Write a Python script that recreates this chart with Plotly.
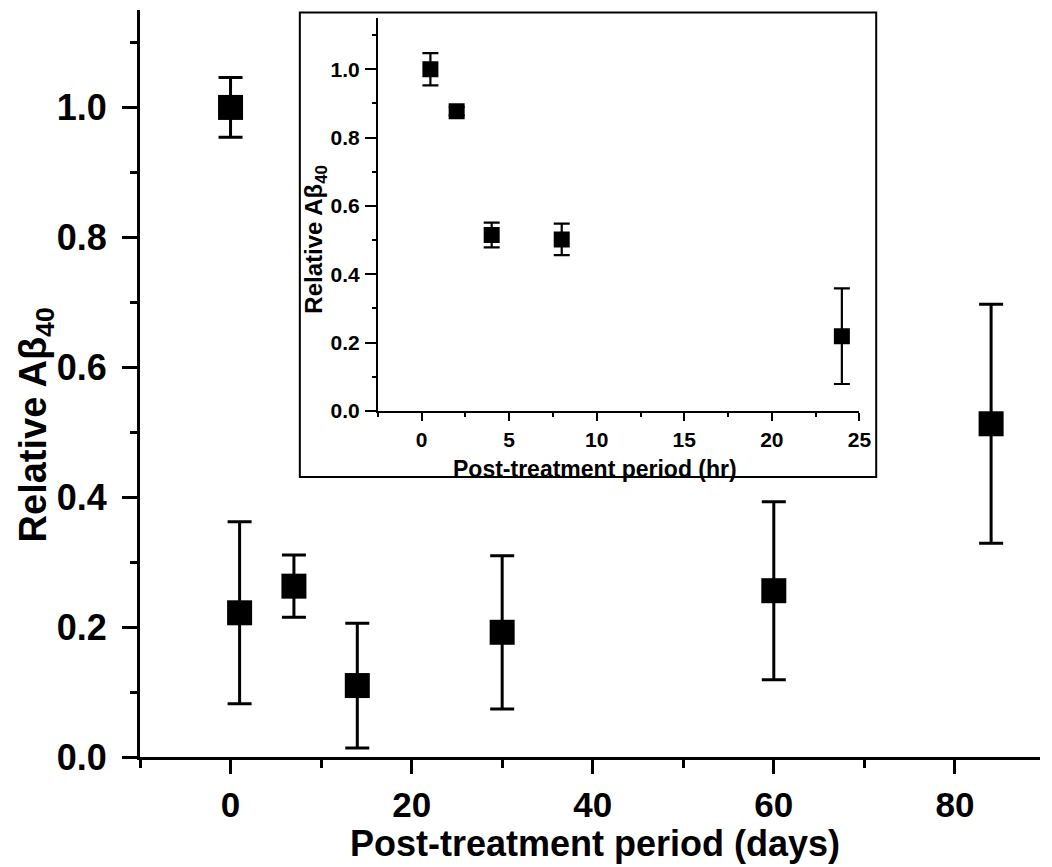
import plotly.graph_objects as go

# Main panel data (days)
days = [0, 1, 7, 14, 30, 60, 84]
rel_days = [1.0, 0.222, 0.263, 0.110, 0.192, 0.256, 0.513]
err_days = [0.046, 0.140, 0.048, 0.096, 0.118, 0.137, 0.184]

# Inset data (hours)
hours = [0.5, 2, 4, 8, 24]
rel_hours = [1.0, 0.877, 0.515, 0.502, 0.219]
err_hours = [0.047, 0.012, 0.036, 0.046, 0.140]

main_xticks = [0, 20, 40, 60, 80]
main_yticks = [0.0, 0.2, 0.4, 0.6, 0.8, 1.0]
inset_xticks = [0, 5, 10, 15, 20, 25]
inset_yticks = [0.0, 0.2, 0.4, 0.6, 0.8, 1.0]

main_xtitle = "Post-treatment period (days)"
inset_xtitle = "Post-treatment period (hr)"
ytitle = "Relative Aβ<sub>40</sub>"

fig = go.Figure()
fig.add_trace(go.Scatter(
    x=days, y=rel_days, mode="markers",
    marker=dict(symbol="square", size=25, color="black"),
    error_y=dict(type="data", array=err_days, visible=True, color="black", thickness=3, width=12),
    xaxis="x", yaxis="y", showlegend=False))
fig.add_trace(go.Scatter(
    x=hours, y=rel_hours, mode="markers",
    marker=dict(symbol="square", size=16, color="black"),
    error_y=dict(type="data", array=err_hours, visible=True, color="black", thickness=2.2, width=8),
    xaxis="x2", yaxis="y2", showlegend=False))

axis_common = dict(showgrid=False, zeroline=False, showline=True, linecolor="black",
                   ticks="outside", tickcolor="black")
font = "Liberation Sans, Arial, sans-serif"

fig.update_layout(
    width=1052, height=867, autosize=False,
    margin=dict(l=140, r=0, t=10, b=110),
    paper_bgcolor="white", plot_bgcolor="white",
    xaxis=dict(**axis_common, domain=[0, 1], range=[-10, 89.4], tickvals=main_xticks,
               linewidth=3, tickwidth=3, ticklen=14, ticklabelstandoff=1,
               minor=dict(dtick=10, tick0=0, ticks="outside", ticklen=8, tickwidth=3, tickcolor="black"),
               tickfont=dict(family=font, size=35, color="black", weight="bold")),
    yaxis=dict(**axis_common, domain=[0, 1], range=[0, 1.15], tickvals=main_yticks,
               tickformat=".1f", linewidth=3, tickwidth=3, ticklen=15, ticklabelstandoff=8,
               minor=dict(dtick=0.1, tick0=0, ticks="outside", ticklen=7, tickwidth=3, tickcolor="black"),
               tickfont=dict(family=font, size=36, color="black", weight="bold")),
    xaxis2=dict(**axis_common, domain=[0.2643, 0.7993], anchor="y2", range=[-2.5, 25],
                tickvals=inset_xticks, linewidth=2, tickwidth=2, ticklen=8, ticklabelstandoff=1,
                minor=dict(dtick=2.5, tick0=0, ticks="outside", ticklen=4, tickwidth=2, tickcolor="black"),
                tickfont=dict(family=font, size=21, color="black", weight="bold")),
    yaxis2=dict(**axis_common, domain=[0.4632, 0.9893], anchor="x2", range=[0, 1.15],
                tickvals=inset_yticks, tickformat=".1f", linewidth=2, tickwidth=2, ticklen=11,
                ticklabelstandoff=1,
                minor=dict(dtick=0.1, tick0=0, ticks="outside", ticklen=4, tickwidth=2, tickcolor="black"),
                tickfont=dict(family=font, size=21, color="black", weight="bold")),
    shapes=[dict(type="rect", xref="paper", yref="paper", x0=0.1776, x1=0.818, y0=0.3748, y1=0.9967,
                 line=dict(color="black", width=2), fillcolor="white", layer="below")],
    annotations=[
        dict(text="<b>" + main_xtitle + "</b>", xref="paper", yref="paper", x=0.5055, y=-0.1455,
             xanchor="center", yanchor="bottom", showarrow=False,
             font=dict(family=font, size=36, color="black")),
        dict(text="<b>" + ytitle + "</b>", xref="paper", yref="paper", x=-0.1151, y=0.4444,
             xanchor="center", yanchor="middle", showarrow=False, textangle=-90,
             font=dict(family=font, size=38, color="black")),
        dict(text="<b>" + inset_xtitle + "</b>", xref="paper", yref="paper", x=0.5055, y=0.386,
             xanchor="center", yanchor="middle", showarrow=False,
             font=dict(family=font, size=23, color="black")),
        dict(text="<b>" + ytitle + "</b>", xref="paper", yref="paper", x=0.194, y=0.692,
             xanchor="center", yanchor="middle", showarrow=False, textangle=-90,
             font=dict(family=font, size=24, color="black")),
    ],
)

fig.write_html("out.html", config={"responsive": False})
